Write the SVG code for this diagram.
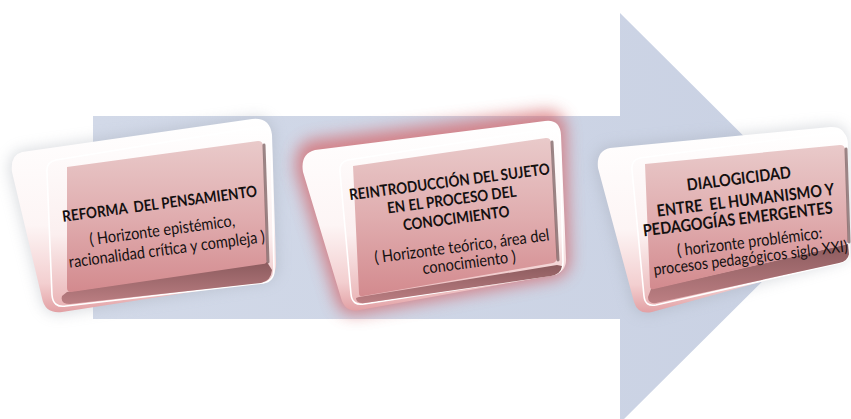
<svg xmlns="http://www.w3.org/2000/svg" width="851" height="419" viewBox="0 0 851 419">
<defs>
<style>
.t{font-family:"Lato","Carlito","Liberation Sans",sans-serif;fill:#141010;text-anchor:middle;white-space:pre}
.b{font-weight:bold}
.body{fill:url(#bodyG)}
.plate{fill:url(#plateG);stroke:#ffffff;stroke-width:1.6}
.face{fill:url(#faceG)}
.band{fill:url(#bandG)}
.edge{fill:none;stroke:#7a5c5e;stroke-width:3;stroke-linecap:round;opacity:.75}
.shadow{fill:#9aa0ab;opacity:.35;filter:url(#blur)}
</style>
<linearGradient id="arrowG" x1="0" y1="0" x2="1" y2="0">
<stop offset="0" stop-color="#D2D9E8"/><stop offset="1" stop-color="#C9D1E3"/>
</linearGradient>
<linearGradient id="bodyG" x1="0" y1="0" x2="0" y2="1">
<stop offset="0" stop-color="#FFFFFF"/><stop offset="0.55" stop-color="#FDF5F5"/><stop offset="0.85" stop-color="#F3CFD0"/><stop offset="1" stop-color="#E2A0A4"/>
</linearGradient>
<linearGradient id="plateG" x1="0" y1="0" x2="0" y2="1">
<stop offset="0" stop-color="#FFFFFF"/><stop offset="0.6" stop-color="#FBEFEF"/><stop offset="1" stop-color="#EAB4B6"/>
</linearGradient>
<linearGradient id="faceG" x1="0" y1="0" x2="0" y2="1">
<stop offset="0" stop-color="#E9CACA"/><stop offset="0.5" stop-color="#E0ADAF"/><stop offset="1" stop-color="#D38A8E"/>
</linearGradient>
<linearGradient id="bandG" x1="0" y1="0" x2="0" y2="1">
<stop offset="0" stop-color="#8C5B5E"/><stop offset="1" stop-color="#BC7F83"/>
</linearGradient>
<filter id="blur" x="-20%" y="-20%" width="140%" height="140%"><feGaussianBlur stdDeviation="7"/></filter>
<filter id="glow" x="-20%" y="-20%" width="140%" height="140%"><feGaussianBlur stdDeviation="8"/></filter>
</defs>
<rect width="851" height="419" fill="#FFFFFF"/>
<g id="arrow">
<polygon points="93,116 620,116 620,13 826,218 620,423 620,319 93,319" fill="url(#arrowG)"/>
</g>
<g id="connectors"></g>
<g id="node1">
<path class="shadow" d="M 22,150 L 252,117 Q 272,115 274,135 L 278,264 Q 279,280 263,283 L 62,314 Q 45,316 41,300 L 9,172 Q 7,154 22,150 Z"/>
<path class="body" d="M 22,152 L 252,119 Q 270,117 272,135 L 276,262 Q 277,278 262,281 L 62,312 Q 45,314 42,298 L 12,172 Q 10,155 22,152 Z"/>
<path class="plate" d="M 56,160 L 258,127 Q 270,125 271,137 L 274,270 Q 274,281 263,283 L 66,306 Q 53,308 52,295 L 47,172 Q 46,162 56,160 Z"/>
<path class="band" d="M 67,292 L 267,262 L 272,270 Q 271,281 261,283 L 70,304 Q 60,304 62,296 Z"/>
<path class="face" d="M 67,167 L 258,141 Q 263,141 263,146 L 267,260 Q 267,264 263,264 L 71,292 Q 67,292 67,288 Z"/>
<path class="edge" d="M 264,145 L 268,262"/>
<g transform="translate(163 229) rotate(-7.5) scale(1 1.15) translate(-163 -222)">
<text class="t b" x="163" y="204.6" font-size="13.5" xml:space="preserve">REFORMA  DEL PENSAMIENTO</text>
<text class="t" x="162" y="227.7" font-size="14.5">( Horizonte epistémico,</text>
<text class="t" x="164" y="244.9" font-size="14.5">racionalidad crítica y compleja )</text>
</g>
</g>
<g id="node2">
<path fill="#D4666B" opacity="0.75" filter="url(#glow)" d="M 310,140 L 545,111 Q 565,110 566,130 L 570,258 Q 571,276 553,279 L 360,314 Q 340,317 336,300 L 296,172 Q 293,146 310,140 Z"/>
<path class="body" d="M 315,150 L 545,121 Q 560,119 561,135 L 566,258 Q 567,272 553,275 L 360,310 Q 345,313 341,298 L 303,172 Q 300,154 315,150 Z"/>
<path class="plate" d="M 348,160 L 548,129 Q 559,128 560,140 L 563,262 Q 563,273 552,275 L 364,304 Q 352,306 351,294 L 340,172 Q 339,162 348,160 Z"/>
<path class="band" d="M 359,297 L 557,265 L 562,266 Q 561,274 551,276 L 365,303 Q 356,304 356,298 Z"/>
<path class="face" d="M 353,166 L 546,138 Q 551,138 551,143 L 557,257 Q 557,262 553,263 L 363,296 Q 359,297 359,293 Z"/>
<path class="edge" d="M 552,142 L 558,260"/>
<g transform="translate(455 217) rotate(-7.5) scale(1 1.15) translate(-455 -215)">
<text class="t b" x="454" y="188.7" font-size="13.5">REINTRODUCCIÓN DEL SUJETO</text>
<text class="t b" x="454" y="204.4" font-size="13.5">EN EL PROCESO DEL</text>
<text class="t b" x="456" y="220.9" font-size="13.5">CONOCIMIENTO</text>
<text class="t" x="458" y="245.9" font-size="14.5">( Horizonte teórico, área del</text>
<text class="t" x="463" y="260.7" font-size="14.5">conocimiento )</text>
</g>
</g>
<g id="node3">
<path class="shadow" d="M 610,146 L 830,125 Q 847,124 848,140 L 851,247 Q 851,260 836,263 L 652,314 Q 636,317 632,304 L 595,168 Q 593,149 610,146 Z"/>
<path class="body" d="M 610,148 L 830,127 Q 845,126 846,140 L 849,245 Q 849,258 836,261 L 652,312 Q 638,315 634,302 L 598,168 Q 596,151 610,148 Z"/>
<path class="plate" d="M 640,158 L 836,132 Q 846,131 847,142 L 849,252 Q 849,261 840,263 L 656,305 Q 645,307 644,296 L 632,170 Q 631,160 640,158 Z"/>
<path class="band" d="M 651,289 L 848,244 L 849,254 Q 848,261 839,263 L 656,303 Q 648,304 648,297 Z"/>
<path class="face" d="M 645,164 L 840,145 Q 845,145 845,150 L 848,240 Q 848,244 844,245 L 654,289 Q 650,290 650,286 Z"/>
<path class="edge" d="M 846,149 L 849,242"/>
<g transform="translate(745 221) rotate(-7) scale(1 1.15) translate(-745 -215)">
<text class="t b" x="744" y="182.8" font-size="14.5">DIALOGICIDAD</text>
<text class="t b" x="748" y="202" font-size="14.5" xml:space="preserve">ENTRE  EL HUMANISMO Y</text>
<text class="t b" x="738" y="217.6" font-size="14.5">PEDAGOGÍAS EMERGENTES</text>
<text class="t" x="747" y="238.3" font-size="14.5">( horizonte problémico:</text>
<text class="t" x="746" y="252.2" font-size="14">procesos pedagógicos siglo XXI)</text>
</g>
</g>
</svg>
